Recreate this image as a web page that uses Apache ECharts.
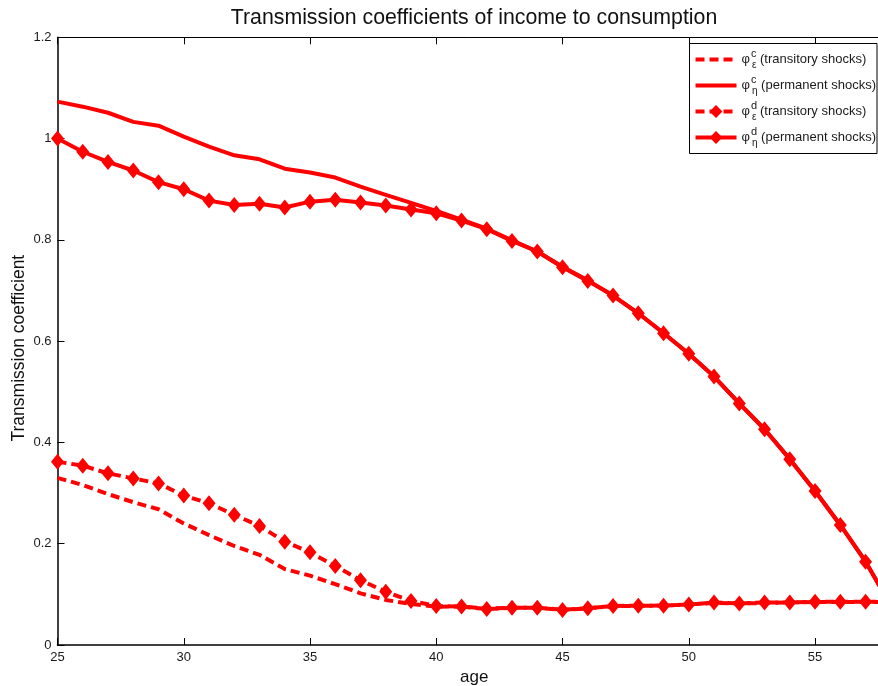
<!DOCTYPE html>
<html>
<head>
<meta charset="utf-8">
<title>Transmission coefficients of income to consumption</title>
<script src="https://cdn.jsdelivr.net/npm/echarts@6/dist/echarts.min.js"></script>
<style>
  html, body { margin: 0; padding: 0; background: #ffffff; }
  #chart { width: 878px; height: 686px; }
</style>
</head>
<body>
<div id="chart"></div>
<script>
// Age grid of the life-cycle model
const ages = [25, 26, 27, 28, 29, 30, 31, 32, 33, 34, 35, 36, 37, 38, 39, 40, 41,
              42, 43, 44, 45, 46, 47, 48, 49, 50, 51, 52, 53, 54, 55, 56, 57, 58];

// phi^c, transitory shocks
const phiCTransitory = [0.330, 0.316, 0.298, 0.282, 0.268, 0.240, 0.217, 0.1955, 0.178, 0.150,
                        0.137, 0.120, 0.102, 0.089, 0.081, 0.0757, 0.076, 0.072, 0.0735, 0.0735,
                        0.070, 0.0725, 0.0765, 0.0775, 0.078, 0.080, 0.083, 0.082, 0.083, 0.084,
                        0.085, 0.085, 0.085, 0.085];

// phi^c, permanent shocks
const phiCPermanent = [1.073, 1.063, 1.051, 1.033, 1.0255, 1.004, 0.984, 0.967, 0.959, 0.9406,
                       0.933, 0.923, 0.905, 0.889, 0.873, 0.857, 0.840, 0.822, 0.799, 0.777,
                       0.747, 0.720, 0.690, 0.655, 0.616, 0.575, 0.530, 0.477, 0.426, 0.367,
                       0.304, 0.237, 0.165, 0.078];

// phi^d, transitory shocks
const phiDTransitory = [0.362, 0.354, 0.339, 0.329, 0.319, 0.295, 0.280, 0.257, 0.235, 0.204,
                        0.183, 0.156, 0.128, 0.105, 0.087, 0.077, 0.076, 0.071, 0.0737, 0.0737,
                        0.069, 0.0724, 0.077, 0.0777, 0.0777, 0.080, 0.084, 0.082, 0.084, 0.084,
                        0.0855, 0.0855, 0.0855, 0.085];

// phi^d, permanent shocks
const phiDPermanent = [1.000, 0.974, 0.954, 0.937, 0.914, 0.900, 0.8775, 0.869, 0.8715, 0.864,
                       0.8755, 0.879, 0.874, 0.868, 0.860, 0.8525, 0.838, 0.821, 0.798, 0.777,
                       0.746, 0.719, 0.690, 0.655, 0.6155, 0.575, 0.530, 0.477, 0.426, 0.367,
                       0.304, 0.237, 0.1645, 0.078];

// Axis settings
const xMin = 25, xMax = 58, xStep = 5;
const yMin = 0, yMax = 1.2, yStep = 0.2;

const seriesNames = ['phiCT', 'phiCP', 'phiDT', 'phiDP'];
const legendText = {
  phiCT: '{phi|φ}{sup|c}{sub|ε}{txt| (transitory shocks)}',
  phiCP: '{phi|φ}{sup|c}{sub|η}{txt| (permanent shocks)}',
  phiDT: '{phi|φ}{sup|d}{sub|ε}{txt| (transitory shocks)}',
  phiDP: '{phi|φ}{sup|d}{sub|η}{txt| (permanent shocks)}'
};

const pairs = (vals) => ages.map((a, i) => [a, vals[i]]);

const RED = '#ff0000';
const FONT = '"Liberation Sans", Arial, Helvetica, sans-serif';
const DASH = [9, 5];

function makeSeries(name, vals, dashed, marker) {
  return {
    name: name,
    type: 'line',
    data: pairs(vals),
    xAxisIndex: 0,
    yAxisIndex: 0,
    symbol: marker ? 'diamond' : 'none',
    symbolSize: [13, 16],
    showSymbol: marker,
    lineStyle: { color: RED, width: 4, type: dashed ? DASH : 'solid' },
    itemStyle: { color: RED },
    emphasis: { disabled: true },
    z: 3
  };
}

// Legend entries: plain curves get no marker in their key
function legendItem(name, dashed, marker) {
  return {
    name: name,
    itemStyle: marker ? { color: RED } : { opacity: 0 },
    lineStyle: { color: RED, width: 4, type: dashed ? DASH : 'solid' }
  };
}

const chart = echarts.init(document.getElementById('chart'), null, { renderer: 'canvas' });

const axisTextStyle = { color: '#1a1a1a', fontFamily: FONT, fontSize: 13 };

chart.setOption({
  animation: false,
  backgroundColor: '#ffffff',
  textStyle: { fontFamily: FONT },
  title: {
    text: 'Transmission coefficients of income to consumption',
    left: 474,
    top: 8,
    padding: 0,
    textAlign: 'center',
    textStyle: { fontFamily: FONT, fontSize: 21.3, fontWeight: 'normal', color: '#111111' }
  },
  // the axes box runs on past the right edge of the canvas
  grid: {
    left: 57.5, width: 833.3, top: 37.3, height: 607.7,
    containLabel: false,
    outerBoundsMode: 'none'
  },
  legend: {
    data: [
      legendItem('phiCT', true, false),
      legendItem('phiCP', false, false),
      legendItem('phiDT', true, true),
      legendItem('phiDP', false, true)
    ],
    orient: 'vertical',
    right: 1,
    top: 43.5,
    padding: [5, 1, 5, 4],
    itemWidth: 41,
    itemHeight: 16,
    itemGap: 4,
    backgroundColor: '#ffffff',
    borderColor: '#000000',
    borderWidth: 1,
    borderRadius: 0,
    selectedMode: false,
    formatter: (name) => legendText[name],
    textStyle: {
      fontFamily: FONT,
      color: '#1a1a1a',
      rich: {
        phi: { fontFamily: FONT, fontSize: 13, color: '#1a1a1a', lineHeight: 22, verticalAlign: 'middle' },
        sup: { fontFamily: FONT, fontSize: 11, color: '#1a1a1a', lineHeight: 11, verticalAlign: 'top', width: 0, padding: [0, 0, 0, 1] },
        sub: { fontFamily: FONT, fontSize: 10, color: '#1a1a1a', lineHeight: 10, verticalAlign: 'bottom', padding: [0, 0, 0, 1] },
        txt: { fontFamily: FONT, fontSize: 13, color: '#1a1a1a', lineHeight: 22, verticalAlign: 'middle' }
      }
    }
  },
  xAxis: [
    {
      type: 'value',
      min: xMin, max: xMax, interval: xStep,
      position: 'bottom',
      name: 'age',
      nameLocation: 'middle',
      nameGap: 18,
      nameTextStyle: { fontFamily: FONT, fontSize: 17, color: '#111111' },
      axisLine: { show: true, onZero: false, lineStyle: { color: '#000000', width: 1.5 } },
      axisTick: { show: true, inside: true, length: 7, lineStyle: { color: '#000000', width: 1 } },
      axisLabel: Object.assign({ margin: 6, showMaxLabel: false }, axisTextStyle),
      splitLine: { show: false }
    },
    {
      type: 'value',
      min: xMin, max: xMax, interval: xStep,
      position: 'top',
      axisLine: { show: true, onZero: false, lineStyle: { color: '#000000', width: 1 } },
      axisTick: { show: true, inside: true, length: 7, lineStyle: { color: '#000000', width: 1 } },
      axisLabel: { show: false },
      splitLine: { show: false }
    }
  ],
  yAxis: [
    {
      type: 'value',
      min: yMin, max: yMax, interval: yStep,
      position: 'left',
      name: 'Transmission coefficient',
      nameLocation: 'middle',
      nameGap: 29,
      nameMoveOverlap: false,
      nameTextStyle: { fontFamily: FONT, fontSize: 17.5, color: '#111111', padding: [0, 14, 0, 0] },
      axisLine: { show: true, onZero: false, lineStyle: { color: '#000000', width: 1.5 } },
      axisTick: { show: true, inside: true, length: 7, lineStyle: { color: '#000000', width: 1 } },
      axisLabel: Object.assign({ margin: 6 }, axisTextStyle),
      splitLine: { show: false }
    },
    {
      type: 'value',
      min: yMin, max: yMax, interval: yStep,
      position: 'right',
      axisLine: { show: true, onZero: false, lineStyle: { color: '#000000', width: 1 } },
      axisTick: { show: true, inside: true, length: 7 },
      axisLabel: { show: false },
      splitLine: { show: false }
    }
  ],
  series: [
    makeSeries('phiCT', phiCTransitory, true, false),
    makeSeries('phiCP', phiCPermanent, false, false),
    makeSeries('phiDT', phiDTransitory, true, true),
    makeSeries('phiDP', phiDPermanent, false, true)
  ]
});
</script>
</body>
</html>
